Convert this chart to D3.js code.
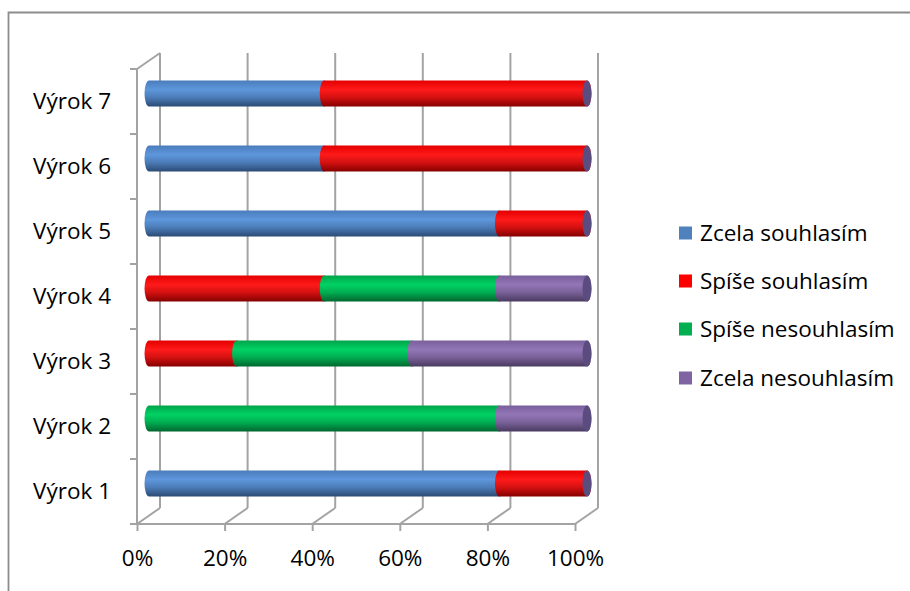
<!DOCTYPE html>
<html>
<head>
<meta charset="utf-8">
<script src="https://cdn.jsdelivr.net/npm/d3@7"></script>
<style>
  html, body { margin: 0; padding: 0; background: #fff; }
  svg { display: block; font-family: "Open Sans", sans-serif; }
</style>
</head>
<body>
<svg id="chart" width="910" height="591"></svg>
<script>
// Statements (bottom to top) and response categories
const categories = ["Výrok 1", "Výrok 2", "Výrok 3", "Výrok 4", "Výrok 5", "Výrok 6", "Výrok 7"];
const seriesNames = ["Zcela souhlasím", "Spíše souhlasím", "Spíše nesouhlasím", "Zcela nesouhlasím"];
// Share of each answer per statement (fractions of 100 %)
const zcelaSouhlasim    = [0.8, 0.0, 0.0, 0.0, 0.8, 0.4, 0.4];
const spiseSouhlasim    = [0.2, 0.0, 0.2, 0.4, 0.2, 0.6, 0.6];
const spiseNesouhlasim  = [0.0, 0.8, 0.4, 0.4, 0.0, 0.0, 0.0];
const zcelaNesouhlasim  = [0.0, 0.2, 0.4, 0.2, 0.0, 0.0, 0.0];
const xTicks = [0, 0.2, 0.4, 0.6, 0.8, 1.0];

const seriesValues = [zcelaSouhlasim, spiseSouhlasim, spiseNesouhlasim, zcelaNesouhlasim];
const colors = ["#4F81BD", "#FF0000", "#00B050", "#8064A2"];
// cylinder shading: [top, highlight, bottom]
const shades = [
  ["#4a7cbb", "#5e97dc", "#2b4b74"],
  ["#e40000", "#ff1a1a", "#850000"],
  ["#00a44a", "#00d264", "#00672f"],
  ["#7a5f9c", "#9276b6", "#4a3a60"]
];
const capColor = "#5b4c80";
const fontSize = "22.5px";

const svg = d3.select("#chart");

// outer frame
svg.append("path")
  .attr("d", "M8.5,591 L8.5,12.5 L910,12.5")
  .attr("fill", "none").attr("stroke", "#8c8c8c").attr("stroke-width", 1.8);

// 3D geometry: front plane + depth offset to back wall
const front = { left: 137, right: 575, top: 69, bottom: 524 };
const depth = { dx: 23, dy: -16 };

const x = d3.scaleLinear().domain([0, 1]).range([front.left, front.right]);
const y = d3.scaleBand().domain(categories).range([front.bottom, front.top]).paddingInner(0).paddingOuter(0);

const defs = svg.append("defs");
shades.forEach((s, i) => {
  const g = defs.append("linearGradient").attr("id", "cyl" + i)
    .attr("x1", 0).attr("y1", 0).attr("x2", 0).attr("y2", 1);
  g.append("stop").attr("offset", "0%").attr("stop-color", s[0]);
  g.append("stop").attr("offset", "35%").attr("stop-color", s[1]);
  g.append("stop").attr("offset", "65%").attr("stop-color", d3.interpolateRgb(s[1], s[2])(0.35));
  g.append("stop").attr("offset", "100%").attr("stop-color", s[2]);
});

const gridColor = "#a3a3a3";
const axes = svg.append("g").attr("stroke", gridColor).attr("stroke-width", 2).attr("fill", "none");

// back wall vertical gridlines
xTicks.forEach(t => {
  const bx = x(t) + depth.dx;
  axes.append("line")
    .attr("x1", bx).attr("x2", bx)
    .attr("y1", front.top + depth.dy).attr("y2", front.bottom + depth.dy);
  // floor depth lines
  axes.append("line")
    .attr("x1", x(t)).attr("y1", front.bottom)
    .attr("x2", bx).attr("y2", front.bottom + depth.dy);
});
// front floor edge
axes.append("line")
  .attr("x1", front.left).attr("x2", front.right)
  .attr("y1", front.bottom).attr("y2", front.bottom);
// left wall front edge and top depth line
axes.append("line")
  .attr("x1", front.left).attr("x2", front.left)
  .attr("y1", front.top).attr("y2", front.bottom);
axes.append("line")
  .attr("x1", front.left).attr("y1", front.top)
  .attr("x2", front.left + depth.dx).attr("y2", front.top + depth.dy);

// category boundary ticks on the vertical axis
const boundaries = categories.map(c => y(c)).concat([front.bottom]);
boundaries.forEach(b => {
  axes.append("line").attr("x1", front.left - 7).attr("x2", front.left)
    .attr("y1", b).attr("y2", b);
});

// x axis: ticks and percent labels
const xAxis = d3.axisBottom(x).tickValues(xTicks).tickFormat(d3.format(".0%"))
  .tickSize(7).tickPadding(19);
const gx = svg.append("g").attr("transform", `translate(0,${front.bottom})`).call(xAxis);
gx.select(".domain").remove();
gx.selectAll(".tick line").attr("stroke", gridColor).attr("stroke-width", 2);
gx.selectAll(".tick text").attr("fill", "#000").style("font-size", fontSize)
  .style("font-family", "'Open Sans', sans-serif");

// y axis: category labels
const yAxis = d3.axisLeft(y).tickSize(0).tickPadding(26);
const gy = svg.append("g").attr("transform", `translate(${front.left},0)`).call(yAxis);
gy.select(".domain").remove();
gy.selectAll(".tick text").attr("fill", "#000").style("font-size", fontSize)
  .style("font-family", "'Open Sans', sans-serif");

// cylinders, placed at half depth
const barH = 26, rx = 4.5;
const midDx = depth.dx / 2 + 0.5, midDy = depth.dy / 2;
const bars = svg.append("g");
categories.forEach((c, ci) => {
  const cy = y(c) + y.bandwidth() / 2 + midDy;
  const top = cy - barH / 2, bot = cy + barH / 2, ry = barH / 2;
  let acc = 0;
  let lastEnd = null;
  seriesValues.forEach((vals, si) => {
    const v = vals[ci];
    if (v <= 0) return;
    const x0 = x(acc) + midDx, x1 = x(acc + v) + midDx;
    acc += v;
    const d = `M${x0},${top} L${x1},${top} A${rx},${ry} 0 0 1 ${x1},${bot} L${x0},${bot} A${rx},${ry} 0 0 1 ${x0},${top} Z`;
    bars.append("path").attr("d", d).attr("fill", `url(#cyl${si})`);
    lastEnd = x1;
  });
  // end cap
  bars.append("ellipse")
    .attr("cx", lastEnd).attr("cy", cy).attr("rx", rx).attr("ry", ry)
    .attr("fill", capColor);
});

// legend
const legend = svg.append("g");
const legendY = [233, 281, 329, 378];
seriesNames.forEach((n, i) => {
  legend.append("rect").attr("x", 679).attr("y", legendY[i] - 6.5)
    .attr("width", 13).attr("height", 13).attr("fill", colors[i]);
  legend.append("text").attr("x", 700).attr("y", legendY[i])
    .attr("dy", "0.35em").style("font-size", fontSize).text(n);
});
</script>
</body>
</html>
